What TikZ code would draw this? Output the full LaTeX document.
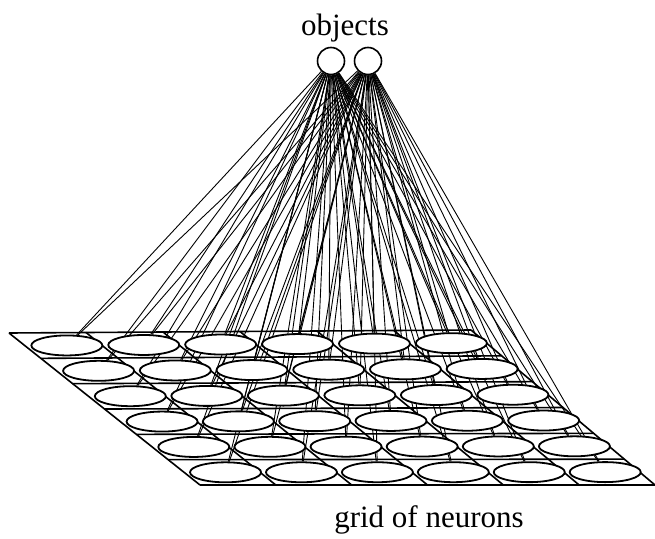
\documentclass[tikz,border=0pt]{standalone}
\usepackage{fontspec}
\setmainfont{Liberation Serif}
\usetikzlibrary{shapes.geometric}
\pgfdeclarelayer{bg}
\pgfsetlayers{bg,main}
\begin{document}
\begin{tikzpicture}[x=1pt,y=-1pt,
  neuron/.style={ellipse,draw,fill=white,line width=1.8pt,minimum width=71pt,minimum height=20pt,inner sep=0pt},
  obj/.style={circle,draw,fill=white,line width=1.6pt,minimum size=27pt,inner sep=0pt},
  conn/.style={line width=0.9pt},
  gridline/.style={line width=1.6pt},
  lbl/.style={font=\fontsize{31}{36}\selectfont,inner sep=0pt}]
\useasboundingbox (0,0) rectangle (655,538);
% objects
\node[obj] (o1) at (331,61) {};
\node[obj] (o2) at (368,61) {};
\node[lbl,anchor=base] (lobj) at (345,35) {objects};
\node[lbl,anchor=base] (lgrid) at (429,527) {grid of neurons};
% neurons
\foreach \r in {0,...,5}{
  \foreach \c in {0,...,5}{
    \pgfmathsetmacro{\u}{(\c+0.5)/6}
    \pgfmathsetmacro{\v}{(\r+0.5)/6}
    \pgfmathsetmacro{\px}{(1-\v)*(9+462*\u)+\v*(200+455*\u)+3.5}
    \pgfmathsetmacro{\py}{(1-\v)*(333-3*\u)+\v*485}
    \node[neuron] (n-\r-\c) at (\px,\py) {};
  }
}
\begin{pgfonlayer}{bg}
  \foreach \r in {0,...,5}{
    \foreach \c in {0,...,5}{
      \draw[conn] (o1) -- (n-\r-\c);
      \draw[conn] (o2) -- (n-\r-\c);
    }
  }
  \foreach \r in {0,...,6}{
    \pgfmathsetmacro{\v}{\r/6}
    \pgfmathsetmacro{\ax}{(1-\v)*9+\v*200}
    \pgfmathsetmacro{\ay}{(1-\v)*333+\v*485}
    \pgfmathsetmacro{\bx}{(1-\v)*471+\v*655}
    \pgfmathsetmacro{\by}{(1-\v)*330+\v*485}
    \coordinate (rl-\r) at (\ax,\ay);
    \coordinate (rr-\r) at (\bx,\by);
    \draw[gridline] (rl-\r) -- (rr-\r);
  }
  \foreach \c in {0,...,6}{
    \pgfmathsetmacro{\u}{\c/6}
    \pgfmathsetmacro{\ax}{9+462*\u}
    \pgfmathsetmacro{\ay}{333-3*\u}
    \pgfmathsetmacro{\bx}{200+455*\u}
    \coordinate (ct-\c) at (\ax,\ay);
    \coordinate (cb-\c) at (\bx,485);
    \draw[gridline] (ct-\c) -- (cb-\c);
  }
\end{pgfonlayer}
\end{tikzpicture}
\end{document}
